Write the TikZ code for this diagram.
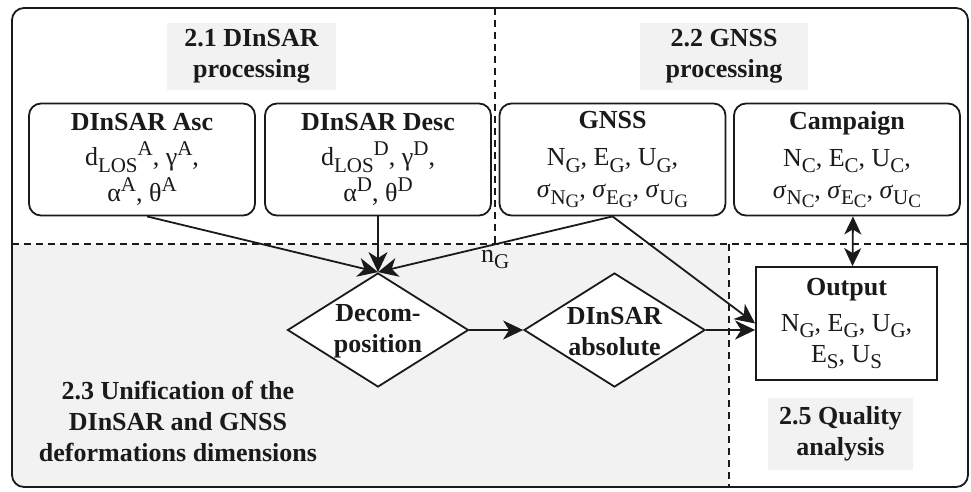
\documentclass[tikz,border=0pt]{standalone}
\usepackage{fontspec}
\setmainfont{Liberation Serif}
\usetikzlibrary{arrows.meta,shapes.geometric}
\definecolor{bgray}{HTML}{F2F2F2}
\definecolor{ink}{HTML}{1A1A1A}
\newcommand\bigfnt{\fontsize{26}{31}\selectfont}
\newcommand\sbs[1]{\raisebox{-0.25em}{\fontsize{21}{21}\selectfont #1}}
\newcommand\ssbs[1]{\raisebox{-0.15em}{\fontsize{19}{19}\selectfont #1}}
\newcommand\sps[1]{\raisebox{0.38em}{\fontsize{21}{21}\selectfont #1}}
\tikzset{
  rbox/.style={draw=ink, line width=1.8pt, rounded corners=12pt, minimum width=226pt, minimum height=112pt, align=center, inner sep=0pt, text=ink, font=\fontsize{26}{32}\selectfont},
  obox/.style={draw=ink, fill=white, line width=1.8pt, minimum width=181pt, minimum height=113pt, align=center, inner sep=0pt, text=ink, font=\bigfnt},
  titlebox/.style={fill=bgray, align=center, font=\bigfnt\bfseries, inner sep=0pt, text=ink},
  dia/.style={draw=ink, diamond, line width=1.8pt, fill=white, minimum width=181pt, minimum height=114pt, inner sep=0pt},
  btext/.style={align=center, font=\bigfnt\bfseries, text=ink, inner sep=0pt},
  conn/.style={draw=ink, line width=1.8pt, -{Stealth[length=20pt,width=19pt,inset=6pt]}},
  dconn/.style={draw=ink, line width=1.8pt, {Stealth[length=18pt,width=17pt,inset=5pt]}-{Stealth[length=18pt,width=17pt,inset=5pt]}},
  sepline/.style={draw=ink, line width=1.5pt, dash pattern=on 7pt off 5pt},
}
\begin{document}
\begin{tikzpicture}[x=1pt,y=-1pt,font=\bigfnt]
\useasboundingbox (0,0) rectangle (971,491);
% grey region of 2.3
\begin{scope}
  \clip[rounded corners=12pt] (12,8) rectangle (968,487);
  \fill[bgray] (12,244) rectangle (729,487);
\end{scope}
% separators
\draw[sepline] (495,8) -- (495,244);
\draw[sepline] (12,244) -- (968,244);
\draw[sepline] (729,244) -- (729,487);
% outer frame
\draw[draw=ink, line width=1.8pt, rounded corners=12pt] (12,8) rectangle (968,487);

% section titles
\node[titlebox, minimum width=169pt, minimum height=67pt] (t21) at (251.5,56.5) {2.1 DInSAR\\processing};
\node[titlebox, minimum width=168pt, minimum height=67pt] (t22) at (724,56.5) {2.2 GNSS\\processing};
\node[titlebox, minimum width=145pt, minimum height=72pt] (t25) at (840.5,434) {2.5 Quality\\analysis};
\node[btext] (t23) at (178,421) {2.3 Unification of the\\DInSAR and GNSS\\deformations dimensions};

% input boxes
\node[rbox] (asc) at (142,159.5) {\textbf{DInSAR Asc}\\[3pt] d\sbs{LOS}\sps{A}, γ\sps{A},\\[4pt] α\sps{A}, θ\sps{A}};
\node[rbox] (desc) at (378,159.5) {\textbf{DInSAR Desc}\\[3pt] d\sbs{LOS}\sps{D}, γ\sps{D},\\[4pt] α\sps{D}, θ\sps{D}};
\node[rbox] (gnss) at (612.5,159.5) {\textbf{GNSS}\\[5pt] N\sbs{G}, E\sbs{G}, U\sbs{G},\\ \textit{σ}\sbs{N\ssbs{G}}, \textit{σ}\sbs{E\ssbs{G}}, \textit{σ}\sbs{U\ssbs{G}}};
\node[rbox] (camp) at (847,159.5) {\textbf{Campaign}\\[5pt] N\sbs{C}, E\sbs{C}, U\sbs{C},\\ \textit{σ}\sbs{N\ssbs{C}}, \textit{σ}\sbs{E\ssbs{C}}, \textit{σ}\sbs{U\ssbs{C}}};

% processing
\node[dia] (dec) at (378,330) {};
\node[btext] (dectext) at (378,331) {Decom-\\position};
\node[dia] (abs) at (614.5,330) {};
\node[btext] (abstext) at (614.5,332) {DInSAR\\absolute};

% output
\node[obox] (out) at (846.5,323.5) {\textbf{Output}\\[5pt] N\sbs{G}, E\sbs{G}, U\sbs{G},\\ E\sbs{S}, U\sbs{S}};

% connectors
\draw[conn] ([xshift=5pt]asc.south) -- (dec.north);
\draw[conn] (desc.south) -- (dec.north);
\draw[conn] (gnss.south) -- node[pos=0.5, below=5pt, inner sep=0pt, text=ink, font=\bigfnt] (ng) {n\sbs{G}} (dec.north);
\draw[conn] (gnss.south) -- (out.west);
\draw[conn] (dec.east) -- (abs.west);
\draw[conn] (abs.east) -- (abs.east -| out.west);
\draw[dconn] ([xshift=6pt]camp.south) -- ([xshift=6pt]out.north);
\end{tikzpicture}
\end{document}
